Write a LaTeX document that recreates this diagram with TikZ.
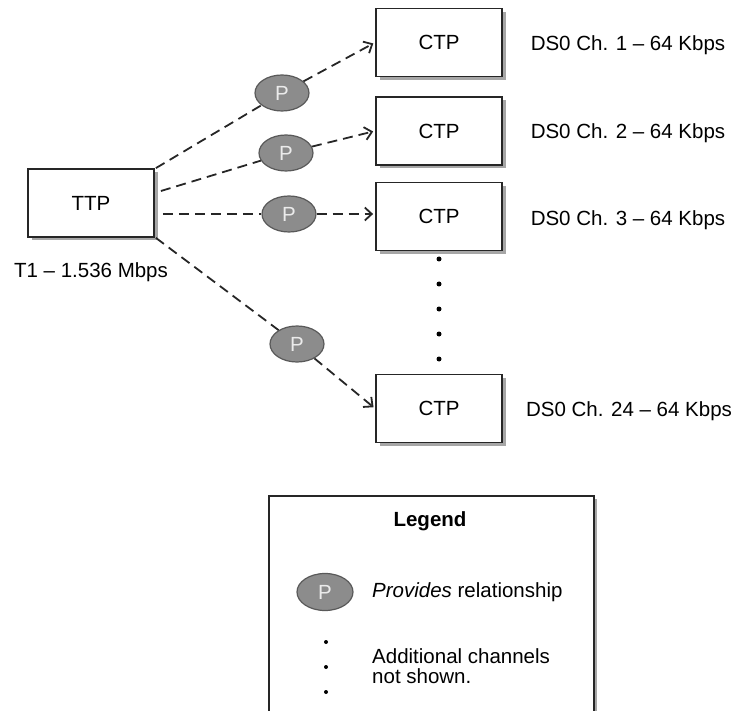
\documentclass[tikz,border=0pt]{standalone}
\usepackage{fontspec}
\setmainfont{Liberation Sans}
\usetikzlibrary{shapes.geometric,shadows,arrows.meta}

\begin{document}
\begin{tikzpicture}[x=1pt, y=-1pt, font=\fontsize{20.5}{20}\selectfont,
  tpbox/.style={draw=black!85, line width=1.8pt, fill=white, minimum width=126pt, minimum height=68pt, inner sep=0pt,
    drop shadow={shadow xshift=3.5pt, shadow yshift=-3.5pt, fill=black!50, opacity=0.7}},
  prov/.style={ellipse, draw=black!65, line width=1.2pt, fill=black!45, text=black!8, minimum width=54pt, minimum height=36pt, inner sep=0pt},
  link/.style={dash pattern=on 10pt off 6pt, line width=1.8pt, draw=black!85},
  tip/.style={-{Straight Barb[length=7pt,width=13pt]}, shorten >=2pt},
  chdot/.style={circle, fill=black, inner sep=0pt, minimum size=5pt}]
\clip (0,0) rectangle (736,711);
% termination points
\node[tpbox] (ttp) at (91,203) {TTP};
\node (ttplbl) at (91,272) {T1 -- 1.536 Mbps};
\node[tpbox] (ctp1) at (439,42.5) {CTP};
\node[tpbox] (ctp2) at (439,131) {CTP};
\node[tpbox] (ctp3) at (439,216.5) {CTP};
\node[tpbox] (ctp4) at (439,408.5) {CTP};
\node (ch1) at (628,45) {DS0 Ch. 1 -- 64 Kbps};
\node (ch2) at (628,133) {DS0 Ch. 2 -- 64 Kbps};
\node (ch3) at (628,220) {DS0 Ch. 3 -- 64 Kbps};
\node (ch24) at (629,411) {DS0 Ch. 24 -- 64 Kbps};
\foreach \y [count=\i] in {259,284,309,334,359} \node[chdot] (gap\i) at (439,\y) {};
% provides relationships
\node[prov] (p1) at (282,93) {P};
\node[prov] (p2) at (286,153) {P};
\node[prov] (p3) at (289,214) {P};
\node[prov] (p4) at (297,344) {P};
\draw[link] ([xshift=1pt]ttp.north east) -- (p1);
\draw[link,tip] (p1) -- (ctp1.west);
\draw[link] ([xshift=6pt,yshift=12pt]ttp.east) -- (p2);
\draw[link,tip] (p2) -- (ctp2.west);
\draw[link] ([xshift=8pt,yshift=-11pt]ttp.east) -- (p3);
\draw[link,tip] (p3) -- (p3 -| ctp3.west);
\draw[link] ([xshift=1pt]ttp.south east) -- (p4);
\draw[link,tip] (p4) -- (ctp4.west);
% legend
\node[draw=black!85, line width=1.8pt, fill=white, minimum width=325pt, minimum height=250pt, inner sep=0pt, anchor=north west,
  drop shadow={shadow xshift=3.5pt, shadow yshift=-3.5pt, fill=black!50, opacity=0.7}] (legend) at (268,495) {};
\node[font=\fontsize{20.5}{20}\selectfont\bfseries] (legendttl) at (430,521) {Legend};
\node[prov, minimum width=56pt, minimum height=37pt] (lp) at (325,592) {P};
\node[anchor=west, inner sep=0pt] (lptxt) at (372,592) {\textit{Provides} relationship};
\foreach \y [count=\i] in {642,667,692} \node[chdot, minimum size=4pt] (ldot\i) at (326,\y) {};
\node[anchor=west, align=left, inner sep=0pt] (ldottxt) at (372,666) {Additional channels\\not shown.};
\end{tikzpicture}
\end{document}
